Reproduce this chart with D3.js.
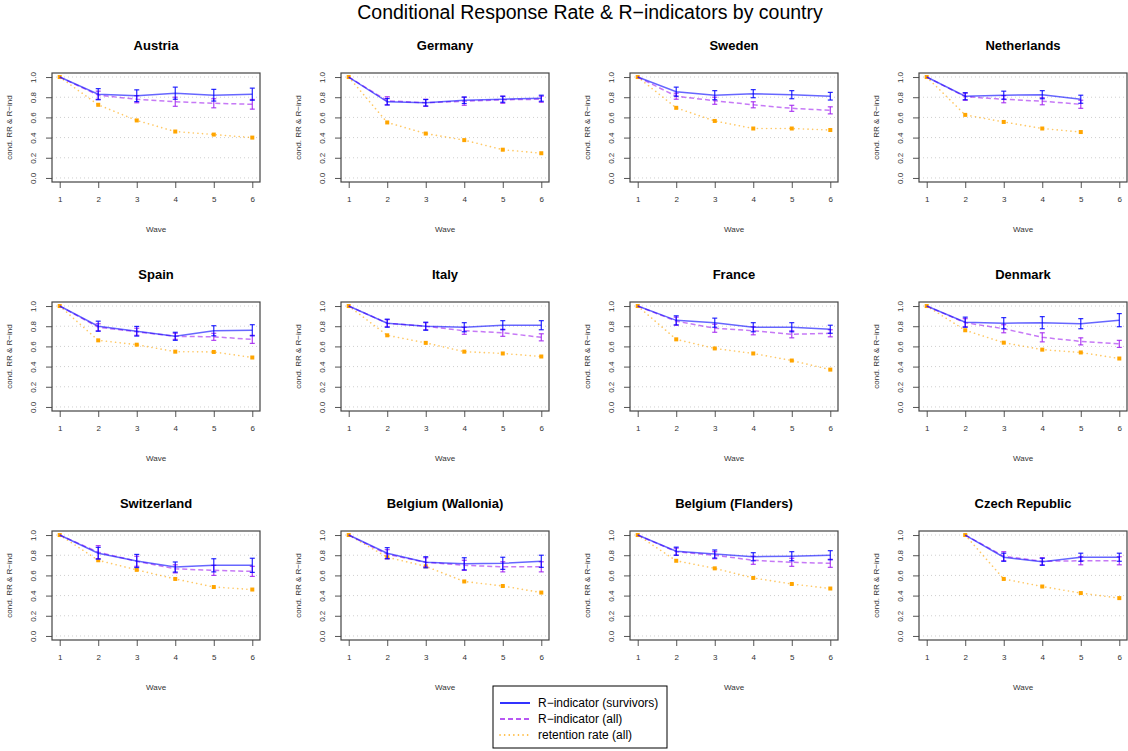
<!DOCTYPE html>
<html>
<head>
<meta charset="utf-8">
<script src="https://cdn.jsdelivr.net/npm/d3@7"></script>
<style>
  body { margin: 0; background: #fff; }
  svg { display: block; font-family: "Liberation Sans", Arial, Helvetica, sans-serif; }
</style>
</head>
<body>
<svg id="chart" width="1128" height="751"></svg>
<script>
// values, one row per country, waves 1..6 (null = no wave)
const countries = ["Austria", "Germany", "Sweden", "Netherlands",
  "Spain", "Italy", "France", "Denmark",
  "Switzerland", "Belgium (Wallonia)", "Belgium (Flanders)", "Czech Republic"];
const waves = [1, 2, 3, 4, 5, 6];
const yTicks = [0, 0.2, 0.4, 0.6, 0.8, 1.0];

const rSurvivors = [
  [1, 0.83, 0.815, 0.84, 0.82, 0.83],
  [1, 0.755, 0.745, 0.77, 0.78, 0.79],
  [1, 0.855, 0.82, 0.835, 0.825, 0.81],
  [1, 0.81, 0.82, 0.825, 0.78, null],
  [1, 0.80, 0.75, 0.70, 0.755, 0.76],
  [1, 0.83, 0.80, 0.79, 0.81, 0.81],
  [1, 0.858, 0.835, 0.79, 0.79, 0.77],
  [1, 0.84, 0.83, 0.835, 0.825, 0.86],
  [1, 0.82, 0.743, 0.683, 0.70, 0.70],
  [1, 0.82, 0.73, 0.715, 0.72, 0.74],
  [1, 0.84, 0.812, 0.785, 0.79, 0.80],
  [null, 1, 0.78, 0.735, 0.78, 0.78]
];
const rSurvivorsCI = [
  [null, 0.055, 0.058, 0.06, 0.058, 0.06],
  [null, 0.032, 0.032, 0.032, 0.03, 0.03],
  [null, 0.045, 0.045, 0.04, 0.04, 0.038],
  [null, 0.035, 0.04, 0.04, 0.04, null],
  [null, 0.05, 0.048, 0.04, 0.05, 0.055],
  [null, 0.04, 0.04, 0.045, 0.045, 0.045],
  [null, 0.045, 0.045, 0.045, 0.045, 0.04],
  [null, 0.05, 0.055, 0.06, 0.05, 0.065],
  [null, 0.058, 0.065, 0.05, 0.065, 0.07],
  [null, 0.055, 0.055, 0.06, 0.06, 0.06],
  [null, 0.04, 0.04, 0.04, 0.045, 0.045],
  [null, null, 0.04, 0.035, 0.04, 0.04]
];
const rAll = [
  [1, 0.82, 0.78, 0.755, 0.74, 0.73],
  [1, 0.765, 0.745, 0.76, 0.775, 0.78],
  [1, 0.81, 0.765, 0.725, 0.69, 0.67],
  [1, 0.805, 0.78, 0.76, 0.73, null],
  [1, 0.79, 0.745, 0.70, 0.695, 0.67],
  [1, 0.83, 0.80, 0.755, 0.735, 0.69],
  [1, 0.85, 0.78, 0.755, 0.72, 0.73],
  [1, 0.835, 0.775, 0.69, 0.65, 0.625],
  [1, 0.83, 0.74, 0.665, 0.65, 0.64],
  [1, 0.81, 0.73, 0.70, 0.685, 0.685],
  [1, 0.835, 0.80, 0.75, 0.73, 0.72],
  [null, 1, 0.79, 0.74, 0.745, 0.745]
];
const rAllCI = [
  [null, 0.04, 0.035, 0.045, 0.045, 0.048],
  [null, 0.04, 0.035, 0.04, 0.035, 0.03],
  [null, 0.03, 0.035, 0.03, 0.03, 0.035],
  [null, 0.035, 0.035, 0.035, 0.04, null],
  [null, 0.035, 0.035, 0.03, 0.035, 0.04],
  [null, 0.035, 0.035, 0.035, 0.035, 0.035],
  [null, 0.04, 0.04, 0.04, 0.035, 0.035],
  [null, 0.04, 0.04, 0.045, 0.035, 0.035],
  [null, 0.065, 0.05, 0.04, 0.05, 0.05],
  [null, 0.045, 0.045, 0.05, 0.05, 0.05],
  [null, 0.035, 0.035, 0.04, 0.04, 0.04],
  [null, null, 0.045, 0.035, 0.04, 0.04]
];
const retention = [
  [1, 0.725, 0.57, 0.46, 0.43, 0.40],
  [1, 0.55, 0.44, 0.375, 0.28, 0.245],
  [1, 0.695, 0.565, 0.49, 0.49, 0.475],
  [1, 0.625, 0.555, 0.49, 0.455, null],
  [1, 0.66, 0.617, 0.548, 0.545, 0.49],
  [1, 0.71, 0.635, 0.548, 0.53, 0.50],
  [1, 0.67, 0.58, 0.53, 0.46, 0.37],
  [1, 0.76, 0.637, 0.568, 0.54, 0.48],
  [1, 0.75, 0.655, 0.565, 0.485, 0.46],
  [1, 0.78, 0.69, 0.54, 0.495, 0.43],
  [1, 0.745, 0.67, 0.575, 0.515, 0.47],
  [null, 1, 0.565, 0.49, 0.425, 0.375]
];

const legendLabels = ["R\u2212indicator (survivors)", "R\u2212indicator (all)", "retention rate (all)"];

const colBlue = "#0000ff", colPurple = "#a020f0", colOrange = "#ffa500";

const svg = d3.select("#chart");

svg.append("text")
  .attr("x", 590).attr("y", 19)
  .attr("text-anchor", "middle")
  .style("font-size", "19.5px")
  .text("Conditional Response Rate & R\u2212indicators by country");

const colX = [52, 341, 630, 919];
const rowY = [73, 302, 531];
const pw = 208, ph = 109;

const x = d3.scaleLinear().domain([0.8, 6.2]).range([0, pw]);
const y = d3.scaleLinear().domain([-0.04, 1.04]).range([ph, 0]);

const line = d3.line()
  .defined(d => d.v != null)
  .x(d => x(d.w))
  .y(d => y(d.v));

countries.forEach((name, i) => {
  const g = svg.append("g")
    .attr("transform", `translate(${colX[i % 4]},${rowY[Math.floor(i / 4)]})`);

  g.append("text")
    .attr("x", pw / 2).attr("y", -23)
    .attr("text-anchor", "middle")
    .style("font-size", "13px").style("font-weight", "bold")
    .text(name);

  // dotted grid
  g.selectAll(".grid")
    .data(yTicks)
    .enter().append("line")
    .attr("x1", 0).attr("x2", pw)
    .attr("y1", d => y(d)).attr("y2", d => y(d))
    .attr("stroke", "#cfcfcf")
    .attr("stroke-dasharray", "1,3");

  // axes
  const xa = g.append("g")
    .attr("transform", `translate(0,${ph})`)
    .call(d3.axisBottom(x).tickValues(waves).tickSize(6).tickFormat(d3.format("d")));
  xa.select(".domain").remove();
  xa.selectAll("line").attr("stroke", "#555");
  xa.selectAll("text").attr("y", 17).attr("dy", "0.35em")
    .style("font-size", "8px").attr("fill", "#333");

  const ya = g.append("g")
    .call(d3.axisLeft(y).tickValues(yTicks).tickSize(6).tickFormat(d3.format(".1f")));
  ya.select(".domain").remove();
  ya.selectAll("line").attr("stroke", "#555");
  ya.selectAll("text")
    .attr("x", null).attr("dy", null)
    .attr("text-anchor", "middle")
    .attr("transform", "translate(-16,0) rotate(-90)")
    .style("font-size", "8px").attr("fill", "#333");

  g.append("text")
    .attr("x", pw / 2).attr("y", ph + 50)
    .attr("text-anchor", "middle")
    .style("font-size", "8px").attr("fill", "#333")
    .text("Wave");

  g.append("text")
    .attr("transform", `translate(-40,${ph / 2}) rotate(-90)`)
    .attr("text-anchor", "middle")
    .style("font-size", "8px").attr("fill", "#333")
    .text("cond. RR & R\u2212ind");

  // retention rate
  const ret = waves.map((w, k) => ({ w, v: retention[i][k] }));
  g.append("path")
    .attr("d", line(ret))
    .attr("fill", "none")
    .attr("stroke", colOrange).attr("stroke-opacity", 0.6)
    .attr("stroke-width", 1.6)
    .attr("stroke-linecap", "round")
    .attr("stroke-dasharray", "0.1,4.5");
  g.selectAll(".pt")
    .data(ret.filter(d => d.v != null))
    .enter().append("rect")
    .attr("x", d => x(d.w) - 2).attr("y", d => y(d.v) - 2)
    .attr("width", 4).attr("height", 4)
    .attr("fill", colOrange);

  // R-indicator (all), then survivors on top
  const series = [
    { vals: rAll[i], ci: rAllCI[i], col: colPurple, dash: "5,3", op: 0.6 },
    { vals: rSurvivors[i], ci: rSurvivorsCI[i], col: colBlue, dash: null, op: 0.6 }
  ];
  series.forEach(s => {
    const pts = waves.map((w, k) => ({ w, v: s.vals[k], c: s.ci[k] }));
    g.append("path")
      .attr("d", line(pts))
      .attr("fill", "none")
      .attr("stroke", s.col).attr("stroke-opacity", s.op)
      .attr("stroke-width", 1.5)
      .attr("stroke-dasharray", s.dash);
    const eb = g.selectAll(null)
      .data(pts.filter(d => d.v != null && d.c != null))
      .enter().append("g")
      .attr("stroke", s.col).attr("stroke-opacity", 0.85)
      .attr("stroke-width", 1.2);
    eb.append("line")
      .attr("x1", d => x(d.w)).attr("x2", d => x(d.w))
      .attr("y1", d => y(d.v - d.c)).attr("y2", d => y(d.v + d.c));
    eb.append("line")
      .attr("x1", d => x(d.w) - 2.5).attr("x2", d => x(d.w) + 2.5)
      .attr("y1", d => y(d.v - d.c)).attr("y2", d => y(d.v - d.c));
    eb.append("line")
      .attr("x1", d => x(d.w) - 2.5).attr("x2", d => x(d.w) + 2.5)
      .attr("y1", d => y(d.v + d.c)).attr("y2", d => y(d.v + d.c));
  });

  g.append("rect")
    .attr("width", pw).attr("height", ph)
    .attr("fill", "none").attr("stroke", "#444").attr("stroke-width", 1.2);
});

// legend
const leg = svg.append("g").attr("transform", "translate(493,686)");
leg.append("rect")
  .attr("width", 174).attr("height", 62)
  .attr("fill", "#fff").attr("stroke", "#000");
const legStyles = [
  { col: colBlue, dash: null, cap: "butt" },
  { col: colPurple, dash: "5,3", cap: "butt" },
  { col: colOrange, dash: "0.1,4.5", cap: "round" }
];
legendLabels.forEach((lab, k) => {
  const yy = 17 + k * 16;
  leg.append("line")
    .attr("x1", 7).attr("x2", 37).attr("y1", yy).attr("y2", yy)
    .attr("stroke", legStyles[k].col).attr("stroke-width", 1.6)
    .attr("stroke-linecap", legStyles[k].cap)
    .attr("stroke-dasharray", legStyles[k].dash);
  leg.append("text")
    .attr("x", 45).attr("y", yy).attr("dy", "0.35em")
    .style("font-size", "12px")
    .text(lab);
});
</script>
</body>
</html>
